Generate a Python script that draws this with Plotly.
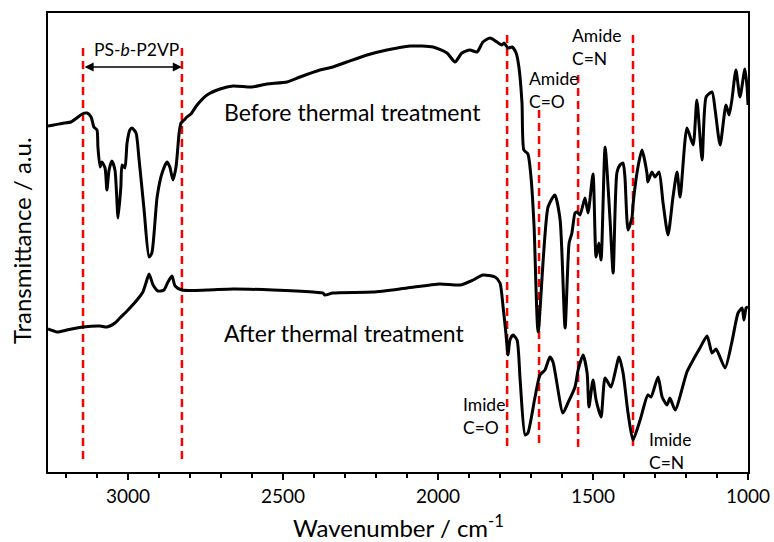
import plotly.graph_objects as go

# ---- data ----
before_wn = [3258, 3239, 3206, 3184, 3165, 3148, 3132, 3119, 3110, 3100, 3097, 3090, 3084, 3074, 3068,
             3061, 3052, 3042, 3032, 3023, 3019, 3010, 3003, 2994, 2987, 2974, 2965, 2948, 2932, 2923,
             2906, 2890, 2874, 2865, 2855, 2845, 2835, 2829, 2819, 2810, 2797, 2777, 2745, 2703, 2661,
             2600, 2552, 2487, 2445, 2381, 2339, 2294, 2229, 2165, 2090, 2016, 1971, 1945, 1923, 1897,
             1874, 1855, 1832, 1810, 1794, 1787, 1774, 1761, 1748, 1739, 1729, 1723, 1710, 1700, 1690,
             1677, 1645, 1623, 1606, 1590, 1577, 1568, 1558, 1552, 1542, 1526, 1516, 1500, 1490, 1481,
             1474, 1461, 1445, 1435, 1423, 1413, 1403, 1397, 1387, 1374, 1371, 1355, 1342, 1326, 1323,
             1310, 1300, 1287, 1274, 1258, 1242, 1229, 1219, 1197, 1177, 1165, 1148, 1135, 1116, 1106,
             1090, 1071, 1061, 1052, 1039, 1026, 1010, 1003, 1000]
before_t = [346, 347, 349, 350, 354, 358, 359, 355, 345, 342, 325, 305, 310, 304, 282,
            302, 311, 302, 254, 285, 307, 304, 329, 342, 344, 339, 315, 262, 215, 219,
            275, 299, 310, 305, 292, 305, 339, 349, 352, 355, 358, 367, 377, 383, 386,
            385, 388, 390, 395, 402, 405, 410, 417, 422, 426, 425, 419, 410, 419, 422,
            420, 430, 434, 430, 427, 429, 424, 425, 419, 405, 369, 322, 318, 295, 245,
            140, 265, 277, 252, 144, 229, 239, 259, 260, 257, 274, 259, 298, 215, 229,
            212, 325, 252, 199, 299, 307, 309, 295, 242, 255, 267, 305, 322, 299, 290,
            300, 295, 300, 269, 237, 275, 300, 275, 344, 327, 372, 312, 375, 380, 362,
            327, 367, 357, 372, 402, 375, 403, 385, 367]

after_wn = [3258, 3229, 3197, 3145, 3090, 3068, 3042, 3026, 3000, 2971, 2952, 2942, 2932, 2919, 2903,
            2884, 2871, 2858, 2848, 2826, 2745, 2661, 2532, 2403, 2371, 2365, 2339, 2210, 2100, 1994,
            1929, 1887, 1855, 1816, 1800, 1790, 1781, 1774, 1768, 1758, 1745, 1735, 1719, 1710, 1687,
            1671, 1655, 1639, 1629, 1597, 1581, 1558, 1548, 1532, 1519, 1513, 1500, 1490, 1474, 1461,
            1442, 1416, 1403, 1387, 1371, 1348, 1323, 1313, 1290, 1277, 1261, 1252, 1235, 1197, 1177,
            1155, 1132, 1116, 1103, 1074, 1052, 1032, 1019, 1013, 1006, 1000]
after_t = [143, 140, 142, 145, 146, 145, 149, 154, 162, 172, 180, 189, 198, 187, 181,
           182, 190, 196, 186, 182, 182, 183, 182, 180, 179, 177, 179, 180, 184, 188,
           187, 192, 197, 195, 189, 165, 139, 117, 132, 137, 132, 92, 37, 39, 75,
           97, 102, 115, 110, 59, 69, 85, 102, 117, 99, 65, 92, 72, 55, 94,
           85, 115, 99, 59, 32, 52, 77, 75, 95, 75, 67, 74, 62, 100, 112,
           124, 136, 119, 123, 104, 130, 159, 164, 152, 164, 165]

# marker lines: wavenumber and vertical extent (a.u.)
mark_wn = [3145, 2826, 1777, 1674, 1548, 1371]
mark_top = [424, 424, 437, 362, 397, 437]
mark_bottom = [10, 10, 23, 29, 22, 22]

x_range = [3258, 1000]
y_range = [0, 459]
x_tick_vals = [3000, 2500, 2000, 1500, 1000]

FONT = "Lato"

fig = go.Figure()

for wn, t0, t1 in zip(mark_wn, mark_top, mark_bottom):
    fig.add_trace(go.Scatter(x=[wn, wn], y=[t0, t1], mode="lines",
                             line=dict(color="#FF0000", width=2.5, dash="8px,5px"),
                             hoverinfo="skip", showlegend=False))

fig.add_trace(go.Scatter(x=before_wn, y=before_t, mode="lines",
                         line=dict(color="black", width=3, shape="spline", smoothing=0.6),
                         showlegend=False, name="Before thermal treatment"))
fig.add_trace(go.Scatter(x=after_wn, y=after_t, mode="lines",
                         line=dict(color="black", width=3, shape="spline", smoothing=0.6),
                         showlegend=False, name="After thermal treatment"))

ann = []
# double arrow between PS-b-P2VP lines
ann.append(dict(x=mark_wn[1], y=405, ax=mark_wn[0], ay=405, xref="x", yref="y", axref="x", ayref="y",
                text="", showarrow=True, arrowhead=2, startarrowhead=2, arrowside="end+start",
                arrowsize=1.4, arrowwidth=1.3, arrowcolor="black", standoff=0, startstandoff=0))
ann.append(dict(x=2971, y=423, text="PS-<i>b</i>-P2VP", showarrow=False, xanchor="center",
                font=dict(size=17.5)))
ann.append(dict(x=2697, y=360, text="Before thermal treatment", showarrow=False, xanchor="left",
                font=dict(size=23)))
ann.append(dict(x=2697, y=139, text="After thermal treatment", showarrow=False, xanchor="left",
                font=dict(size=23)))
ann.append(dict(x=1713, y=382, text="Amide<br>C=O", showarrow=False, xanchor="left", align="left",
                font=dict(size=17.5)))
ann.append(dict(x=1574, y=425, text="Amide<br>C=N", showarrow=False, xanchor="left", align="left",
                font=dict(size=17.5)))
ann.append(dict(x=1926, y=56, text="Imide<br>C=O", showarrow=False, xanchor="left", align="left",
                font=dict(size=17.5)))
ann.append(dict(x=1326, y=21, text="Imide<br>C=N", showarrow=False, xanchor="left", align="left",
                font=dict(size=17.5)))
# axis titles
ann.append(dict(x=0, y=0.503, xref="paper", yref="paper", xshift=-27, text="Transmittance / a.u.",
                textangle=-90, showarrow=False, xanchor="center", yanchor="middle", font=dict(size=24)))
ann.append(dict(x=0.5, y=0, xref="paper", yref="paper", yshift=-54, text="Wavenumber / cm<sup>-1</sup>",
                showarrow=False, xanchor="center", yanchor="middle", font=dict(size=24)))

fig.update_layout(
    width=774, height=542,
    margin=dict(l=48, r=26, t=13, b=70, autoexpand=False),
    paper_bgcolor="white", plot_bgcolor="white",
    font=dict(family=FONT, color="black"),
    annotations=ann,
    xaxis=dict(range=x_range, tickvals=x_tick_vals, ticks="outside", ticklen=6, tickwidth=1.5,
               tickcolor="black", showline=True, linecolor="black", linewidth=1.5, mirror=True,
               showgrid=False, zeroline=False, tickfont=dict(size=19), automargin=False,
               minor=dict(dtick=100, ticks="outside", ticklen=4, tickwidth=1.5, tickcolor="black",
                          showgrid=False)),
    yaxis=dict(range=y_range, showticklabels=False, ticks="", showline=True, linecolor="black",
               linewidth=1.5, mirror=True, showgrid=False, zeroline=False, automargin=False),
)

fig.write_html("out.html")
